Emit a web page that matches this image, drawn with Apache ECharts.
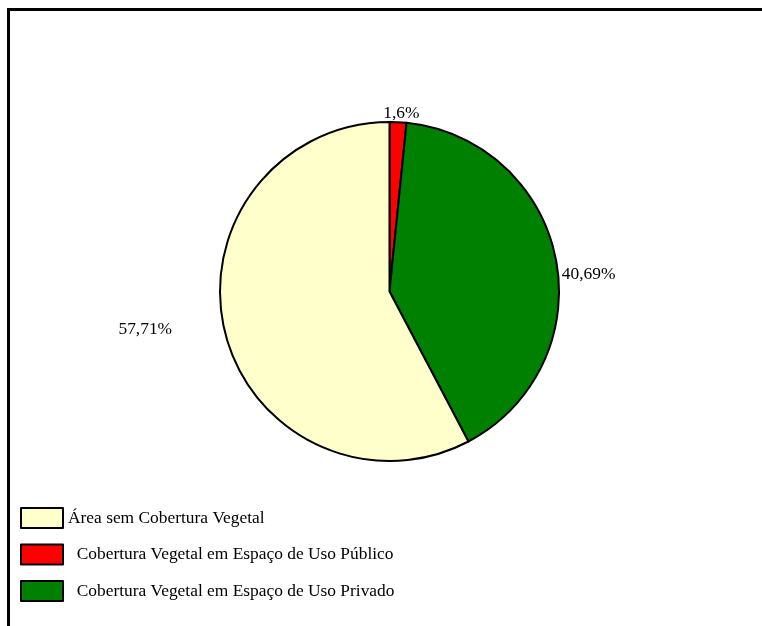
<!DOCTYPE html>
<html>
<head>
<meta charset="utf-8">
<script src="https://cdn.jsdelivr.net/npm/echarts@6/dist/echarts.min.js"></script>
<style>html,body{margin:0;padding:0;background:#fff;}#c{width:762px;height:626px;}</style>
</head>
<body>
<div id="c"></div>
<script>
const categories = ['Cobertura Vegetal em Espaço de Uso Público', 'Cobertura Vegetal em Espaço de Uso Privado', 'Área sem Cobertura Vegetal'];
const values = [1.6, 40.69, 57.71];
const valueLabels = ['1,6%', '40,69%', '57,71%'];
const colors = ['#FF0000', '#008000', '#FFFFCC'];
const legendOrder = ['Área sem Cobertura Vegetal', 'Cobertura Vegetal em Espaço de Uso Público', 'Cobertura Vegetal em Espaço de Uso Privado'];

const FONT = 'Liberation Serif';
const labelShift = [[-20, -4], [-4, 16], [-43, -4]];
const chart = echarts.init(document.getElementById('c'), null, {renderer: 'canvas'});
chart.setOption({
  backgroundColor: '#fff',
  animation: false,
  graphic: [
    {type: 'line', shape: {x1: 8, y1: 9.5, x2: 762, y2: 9.5}, style: {stroke: '#000', lineWidth: 3}},
    {type: 'line', shape: {x1: 8.5, y1: 8, x2: 8.5, y2: 626}, style: {stroke: '#000', lineWidth: 3}}
  ],
  legend: {
    orient: 'vertical',
    left: 15,
    top: 502,
    itemWidth: 42,
    itemHeight: 20,
    itemGap: 14.5,
    icon: 'rect',
    data: legendOrder,
    formatter: function (name) { return (name === legendOrder[0] ? '' : '  ') + name; },
    textStyle: {fontFamily: FONT, fontSize: 17.4, color: '#000', padding: [0, 0, 0, 0]},
    itemStyle: {borderColor: '#000', borderWidth: 2}
  },
  series: [{
    type: 'pie',
    center: [389.5, 291.5],
    radius: 169.5,
    startAngle: 90,
    clockwise: true,
    avoidLabelOverlap: false,
    itemStyle: {borderColor: '#000', borderWidth: 2},
    label: {
      show: true,
      position: 'outside',
      fontFamily: FONT,
      fontSize: 17.4,
      color: '#000',
      formatter: function (p) { return valueLabels[p.dataIndex]; }
    },
    labelLine: {show: false, length: 5, length2: 0},
    labelLayout: function (p) { return {dx: labelShift[p.dataIndex][0], dy: labelShift[p.dataIndex][1]}; },
    emphasis: {disabled: true},
    data: categories.map((c, i) => ({name: c, value: values[i], itemStyle: {color: colors[i]}}))
  }]
});
</script>
</body>
</html>
